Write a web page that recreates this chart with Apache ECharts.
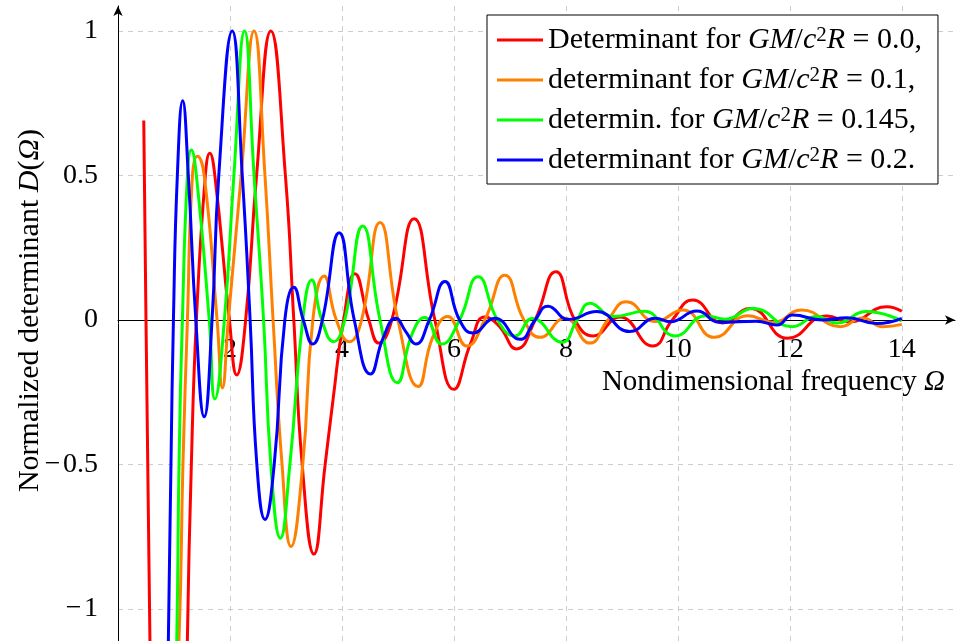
<!DOCTYPE html>
<html>
<head>
<meta charset="utf-8">
<script src="https://cdn.jsdelivr.net/npm/echarts@6/dist/echarts.min.js"></script>
<style>
  html, body { margin: 0; padding: 0; background: #fff; }
  #chart { width: 956px; height: 641px; }
</style>
</head>
<body>
<div id="chart"></div>
<script>
// curves: [Ω, D(Ω)]; a few points lie below the frame so the steep branches run out of it
const curveG00 = [
  [0.46, 0.69], [0.50, 0.0], [0.57, -1.1], [0.62, -1.9], [0.90, -3.2], [1.18, -1.9], [1.24, -1.1],
  [1.31, -0.5], [1.40, 0.0], [1.56, 0.5], [1.64, 0.577], [1.73, 0.5], [1.99, 0.0], [2.12, -0.19],
  [2.28, 0.0], [2.475, 0.5], [2.73, 1.0], [2.99, 0.5], [3.14, 0.0], [3.29, -0.5], [3.50, -0.81],
  [3.70, -0.5], [3.84, -0.277], [4.03, 0.0], [4.23, 0.16], [4.48, 0.0], [4.66, -0.08], [4.89, 0.0],
  [5.29, 0.35], [5.66, 0.0], [6.00, -0.24], [6.30, -0.08], [6.55, 0.01], [6.80, -0.02], [7.12, -0.10],
  [7.45, 0.0], [7.82, 0.167], [8.16, 0.0], [8.49, -0.055], [8.96, 0.01], [9.55, -0.09], [9.90, 0.0],
  [10.27, 0.069], [10.80, -0.01], [11.29, 0.04], [11.96, -0.063], [12.66, 0.014], [13.07, -0.006],
  [13.73, 0.046], [14.0, 0.03]
]
const curveG01 = [
  [0.95, -1.6], [1.09, -1.1], [1.16, -0.5], [1.24, 0.0], [1.33, 0.5], [1.42, 0.567], [1.54, 0.5],
  [1.77, 0.0], [1.865, -0.235], [1.97, 0.0], [2.20, 0.5], [2.43, 1.0], [2.625, 0.5], [2.77, 0.0],
  [2.93, -0.5], [3.09, -0.784], [3.30, -0.5], [3.48, 0.0], [3.68, 0.152], [3.90, 0.0], [4.13, -0.075],
  [4.35, 0.0], [4.68, 0.337], [5.00, 0.0], [5.36, -0.23], [5.62, -0.06], [5.89, 0.012], [6.23, -0.09],
  [6.55, 0.0], [6.91, 0.155], [7.25, 0.0], [7.54, -0.06], [7.98, 0.006], [8.43, -0.08], [8.75, 0.0],
  [9.08, 0.063], [9.60, -0.005], [10.09, 0.035], [10.65, -0.06], [11.25, 0.015], [11.70, -0.008],
  [12.21, 0.035], [12.90, -0.023], [13.30, 0.007], [13.66, -0.023], [14.0, -0.015]
]
const curveG0145 = [
  [0.98, -1.6], [1.05, -1.1], [1.09, -0.5], [1.15, 0.0], [1.24, 0.5], [1.31, 0.588], [1.40, 0.5],
  [1.63, 0.0], [1.73, -0.273], [1.90, 0.0], [2.07, 0.5], [2.26, 1.0], [2.43, 0.5], [2.60, 0.0],
  [2.73, -0.5], [2.90, -0.755], [3.07, -0.5], [3.30, 0.0], [3.46, 0.138], [3.64, 0.0], [3.85, -0.075],
  [4.05, 0.0], [4.37, 0.325], [4.68, 0.0], [4.99, -0.217], [5.25, -0.05], [5.48, 0.009], [5.78, -0.083],
  [6.10, 0.0], [6.43, 0.15], [6.78, 0.0], [7.09, -0.055], [7.40, 0.005], [7.93, -0.077], [8.20, 0.0],
  [8.43, 0.058], [8.85, 0.012], [9.40, 0.03], [9.95, -0.055], [10.50, 0.015], [10.85, 0.003],
  [11.34, 0.04], [12.04, -0.023], [12.48, 0.012], [12.84, -0.01], [13.37, 0.029], [14.0, -0.003]
]
const curveG02 = [
  [0.86, -1.6], [0.90, -1.1], [0.946, -0.5], [0.99, 0.0], [1.06, 0.5], [1.155, 0.759], [1.256, 0.5],
  [1.39, 0.0], [1.54, -0.335], [1.68, 0.0], [1.80, 0.5], [2.04, 1.0], [2.22, 0.5], [2.36, 0.0],
  [2.48, -0.5], [2.625, -0.69], [2.79, -0.5], [2.98, 0.0], [3.14, 0.113], [3.31, 0.0], [3.48, -0.083],
  [3.65, 0.0], [3.95, 0.302], [4.22, 0.0], [4.51, -0.187], [4.74, -0.06], [4.96, 0.006], [5.14, -0.04],
  [5.32, -0.083], [5.56, 0.0], [5.84, 0.133], [6.10, 0.0], [6.34, -0.045], [6.73, 0.006], [7.18, -0.067],
  [7.45, 0.0], [7.68, 0.048], [8.05, 0.002], [8.55, 0.029], [9.14, -0.04], [9.60, 0.006], [9.86, -0.006],
  [10.34, 0.031], [10.75, -0.008], [11.40, -0.004], [11.77, -0.017], [12.05, 0.017], [12.59, 0.0],
  [13.02, 0.008], [13.55, -0.012], [14.0, 0.006]
]

const curves = [curveG00, curveG01, curveG0145, curveG02]
const legendLead = ['Determinant', 'determinant', 'determin.', 'determinant']
const compactness = ['0.0,', '0.1,', '0.145,', '0.2.']
const curveColors = ['#ff0000', '#ff8000', '#00ff00', '#0000ff']
const xRange = { min: 0, max: 14.95, step: 2 }
const yRange = { min: -1.1107, max: 1.0865 }

const serif = 'Liberation Serif'
const gridLine = { color: '#cdcdcd', width: 1, type: [5, 5] }
const minus = v => (v < 0 ? '\u2212\u200a' + Math.abs(v) : '' + v)
const italic = size => ({ fontStyle: 'italic', fontFamily: serif, fontSize: size, color: '#000' })

// plot box in px; the x axis is pushed up to D = 0
const plotTop = 6
const plotH = 641 - plotTop
const zeroOffset = -Math.round((0 - yRange.min) / (yRange.max - yRange.min) * plotH)

const chart = echarts.init(document.getElementById('chart'), null, { renderer: 'canvas' })

const series = curves.map((pts, i) => ({
  name: legendLead[i] + ' for GM/c2R = ' + compactness[i],
  type: 'line',
  data: pts,
  smooth: 0.5,
  symbol: 'none',
  clip: true,
  color: curveColors[i],
  lineStyle: { color: curveColors[i], width: 3 }
}))

const option = {
  animation: false,
  backgroundColor: '#fff',
  textStyle: { fontFamily: serif },
  grid: { left: 118, right: 1, top: plotTop, bottom: 0, containLabel: false, outerBoundsMode: 'none' },
  legend: {
    orient: 'vertical',
    left: 487,
    top: 15,
    icon: 'rect',
    itemWidth: 46,
    itemHeight: 3,
    itemGap: 10,
    padding: [10, 16, 9, 10],
    borderColor: '#000',
    borderWidth: 1,
    borderRadius: 0,
    backgroundColor: '#fff',
    data: series.map(s => s.name),
    formatter: name => name.replace('GM/c2R', '{i|GM}/{i|c}{sup|2}{i|R}'),
    textStyle: {
      fontFamily: serif, fontSize: 30, lineHeight: 30, color: '#000',
      rich: {
        i: { ...italic(30), lineHeight: 30 },
        sup: { fontFamily: serif, fontSize: 21, lineHeight: 20, color: '#000', verticalAlign: 'top' }
      }
    }
  },
  xAxis: {
    type: 'value',
    min: xRange.min,
    max: xRange.max,
    interval: xRange.step,
    offset: zeroOffset,
    name: 'Nondimensional frequency {i|Ω}',
    nameLocation: 'end',
    nameGap: -10,
    nameMoveOverlap: false,
    nameTextStyle: {
      fontFamily: serif, fontSize: 29, color: '#000',
      align: 'right', verticalAlign: 'top', padding: [48, 0, 0, 0],
      rich: { i: italic(29) }
    },
    axisLine: {
      onZero: false,
      symbol: ['none', 'arrow'],
      symbolSize: [7, 10],
      lineStyle: { color: '#000', width: 1 }
    },
    axisTick: { show: false },
    axisLabel: {
      showMinLabel: false, showMaxLabel: false,
      color: '#000', fontFamily: serif, fontSize: 28, margin: 16
    },
    splitLine: { show: true, showMinLine: false, showMaxLine: false, lineStyle: gridLine }
  },
  yAxis: {
    type: 'value',
    min: yRange.min,
    max: yRange.max,
    name: 'Normalized determinant {i|D}({i|Ω})',
    nameLocation: 'middle',
    nameRotate: 90,
    nameGap: 73,
    nameMoveOverlap: false,
    nameTextStyle: {
      fontFamily: serif, fontSize: 30, color: '#000', padding: [0, 0, 0, 26],
      rich: { i: italic(30) }
    },
    axisLine: {
      show: true,
      onZero: false,
      symbol: ['none', 'arrow'],
      symbolSize: [7, 10],
      lineStyle: { color: '#000', width: 1 }
    },
    axisTick: { show: false },
    axisLabel: {
      showMinLabel: false, showMaxLabel: false,
      color: '#000', fontFamily: serif, fontSize: 28, margin: 20,
      formatter: minus
    },
    splitLine: { show: true, showMinLine: false, showMaxLine: false, lineStyle: gridLine }
  },
  series: series
}

chart.setOption(option)
</script>
</body>
</html>
